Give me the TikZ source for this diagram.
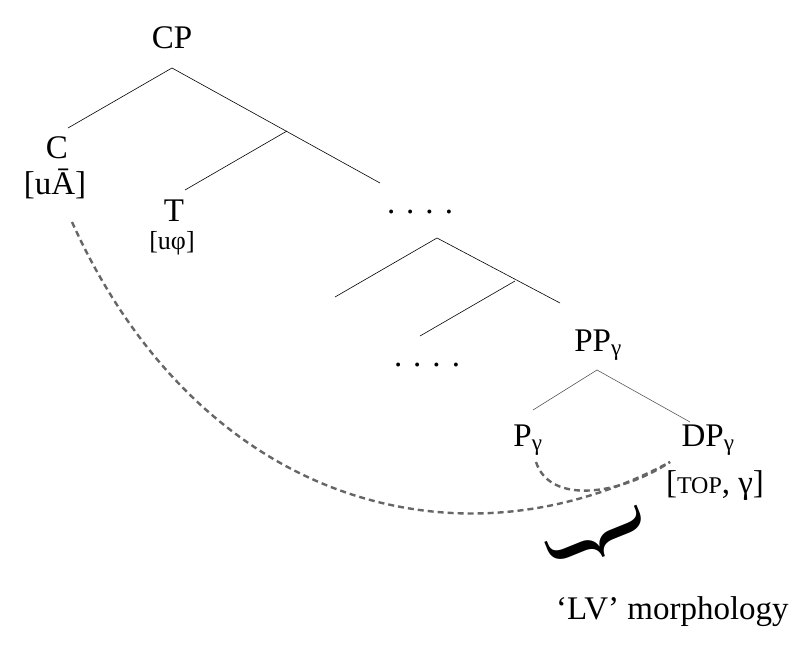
\documentclass[tikz,border=0pt]{standalone}
\usepackage{fontspec}
\setmainfont{Liberation Serif}
\begin{document}
\begin{tikzpicture}[x=1pt,y=-1pt,
  lab/.style={font=\fontsize{33}{36}\selectfont, inner sep=0pt},
  br/.style={line width=0.6pt},
  dsh/.style={line width=2.4pt, draw=gray!80!black, dash pattern=on 6pt off 4pt}]
\useasboundingbox (0,0) rectangle (794,652);
\node[lab] (cp) at (172,38) {CP};
\coordinate (cpb) at (172,68);
\coordinate (cl) at (68,128);
\coordinate (cr) at (380,183);
\coordinate (tb) at (287,131);
\coordinate (tt) at (185,190);
\draw[br] (cl) -- (cpb) -- (cr);
\draw[br] (tb) -- (tt);
\node[lab] (c) at (57,148) {C};
\node[lab] (cf) at (55,184) {[uĀ]};
\node[lab] (t) at (174,211) {T};
\node[lab, font=\fontsize{26}{28}\selectfont] (tf) at (172,243) {[uφ]};
\node[lab] (d1) at (420,212) {. . . .};
\coordinate (n2) at (437,238);
\coordinate (n2l) at (335,297);
\coordinate (n2r) at (560,303);
\coordinate (n3) at (515,281);
\coordinate (n3l) at (420,336);
\draw[br] (n2l) -- (n2) -- (n2r);
\draw[br] (n3) -- (n3l);
\node[lab] (d2) at (427,365) {. . . .};
\node[lab] (pp) at (598,345) {PP\textsubscript{γ}};
\coordinate (ppb) at (597,370);
\coordinate (ppl) at (533,410);
\coordinate (ppr) at (690,422);
\draw[br, gray!70!black] (ppl) -- (ppb) -- (ppr);
\node[lab] (p) at (528,440) {P\textsubscript{γ}};
\node[lab] (dp) at (708,440) {DP\textsubscript{γ}};
\node[lab] (df) at (715,486) {[{\fontsize{24}{26}\selectfont TOP}, γ]};
\coordinate (a1) at (72,222);
\coordinate (a2) at (670,462);
\coordinate (b1) at (536,462);
\draw[dsh] (a1) .. controls (200,505) and (460,575) .. (a2);
\draw[dsh] (b1) .. controls (550,505) and (620,495) .. (a2);
\node[lab, rotate=112, font=\fontsize{120}{120}\selectfont] (brace) at (598,540) {\{};
\node[lab, anchor=west] (lv) at (556,612) {‘LV’ morphology};
\end{tikzpicture}
\end{document}
